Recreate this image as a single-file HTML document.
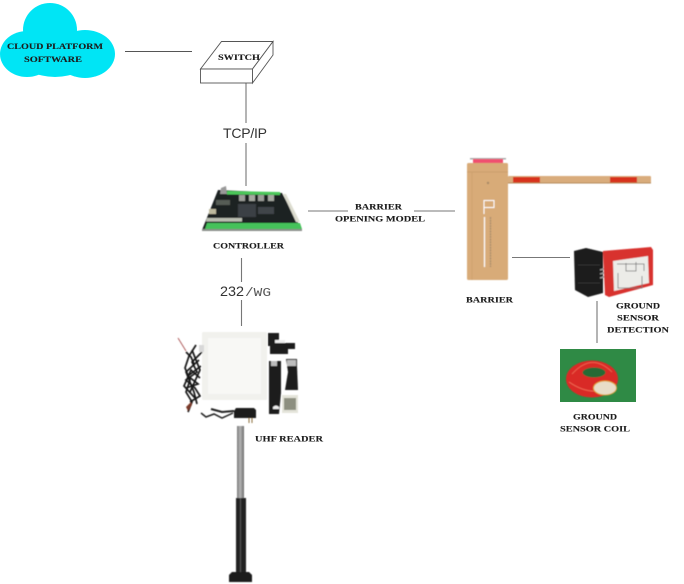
<!DOCTYPE html>
<html>
<head>
<meta charset="utf-8">
<style>
html,body{margin:0;padding:0;background:#fff}
svg{display:block}
.l{font-family:"Liberation Serif",serif;font-weight:bold;font-size:8.5px;fill:#1c1c1c;stroke:#1c1c1c;stroke-width:.12}
.s{font-family:"Liberation Sans",sans-serif;fill:#333}
</style>
</head>
<body>
<svg width="684" height="584" viewBox="0 0 684 584" xmlns="http://www.w3.org/2000/svg">
<defs>
<filter id="b" x="-5%" y="-5%" width="110%" height="110%"><feGaussianBlur stdDeviation="0.45"/></filter>
<filter id="b2" x="-5%" y="-5%" width="110%" height="110%"><feGaussianBlur stdDeviation="0.7"/></filter>
<filter id="t" x="-5%" y="-20%" width="110%" height="140%"><feGaussianBlur stdDeviation="0.25"/></filter>
<linearGradient id="pole" x1="0" x2="1" y1="0" y2="0"><stop offset="0" stop-color="#777"/><stop offset=".45" stop-color="#b5b5b5"/><stop offset="1" stop-color="#6d6d6d"/></linearGradient>
</defs>

<!-- cloud -->
<g fill="#00e5f5" stroke="none">
<ellipse cx="50" cy="30" rx="27" ry="27"/>
<ellipse cx="27" cy="54" rx="27" ry="23"/>
<ellipse cx="85" cy="54" rx="30" ry="24"/>
<ellipse cx="55" cy="58" rx="34" ry="19"/>
</g>

<!-- connectors -->
<g stroke="#777" stroke-width="1.1" fill="none">
<line x1="125" y1="51.500" x2="192" y2="51.500" stroke="#555"/>
<line x1="246" y1="83" x2="246" y2="123"/>
<line x1="246" y1="143" x2="246" y2="186"/>
<line x1="308" y1="211" x2="348" y2="211"/>
<line x1="414" y1="211" x2="455" y2="211"/>
<line x1="241.500" y1="258" x2="241.500" y2="282"/>
<line x1="241.500" y1="300" x2="241.500" y2="326"/>
<line x1="512" y1="257.500" x2="570" y2="257.500"/>
<line x1="597" y1="301" x2="597" y2="343"/>
</g>

<!-- switch -->
<g fill="#fff" stroke="#555" stroke-width="0.9">
<path d="M200.500 69 L221.500 41.500 L273 41.500 L252.500 69 Z"/>
<rect x="200.500" y="69" width="52" height="14"/>
<path d="M252.500 69 L273 41.500 L273 55 L252.500 83 Z"/>
</g>
<text class="s" x="245" y="138" font-size="14" text-anchor="middle" textLength="44">TCP/IP</text>

<!-- controller board -->
<g filter="url(#b)">
<path d="M218 190 L282 193 L302 230 L202 230 Z" fill="#1d2024"/>
<path d="M227 191 L280 192 L280 195 L227 194.500 Z" fill="#4cc85a"/>
<path d="M207 223 L300 223 L302 229 L205 229 Z" fill="#45c25a"/>
<path d="M207 218 L242 218 L242 221.500 L206 221.500 Z" fill="#b9bdb0"/>
<path d="M283 194 L286 194 L300 222 L296 222 Z" fill="#dcdccf"/>
<rect x="239" y="195" width="6" height="6" fill="#9b9e98"/>
<rect x="249" y="195" width="6" height="6" fill="#a5a8a0"/>
<rect x="258" y="195" width="6" height="6" fill="#9b9e98"/>
<rect x="268" y="195" width="6" height="6" fill="#a5a8a0"/>
<rect x="238" y="204" width="18" height="13" fill="#3b3f45"/>
<rect x="216" y="200" width="14" height="5" fill="#555b55"/>
<rect x="258" y="207" width="16" height="7" fill="#3f444a"/>
<rect x="209" y="209" width="7" height="5" fill="#bdb99e"/>
<path d="M221 188 L226 186 L227 194 L220 194 Z" fill="#999"/>
<rect x="202" y="229" width="100" height="2" fill="#8a8f8a"/>
</g>
<text class="s" x="220" y="296" font-size="14" textLength="24" lengthAdjust="spacingAndGlyphs">232</text>
<text x="245" y="296" font-family="'Liberation Mono',monospace" font-size="12" fill="#555" textLength="26" lengthAdjust="spacingAndGlyphs">/WG</text>

<!-- reader kit -->
<g filter="url(#b)">
<rect x="202" y="332" width="65" height="68" rx="1.500" fill="#f1f1ed"/>
<rect x="208" y="338" width="53" height="56" fill="#f8f8f5"/>
<g fill="none" stroke="#151515" stroke-width="1.700">
<path d="M186 352 L191 357 L194 364"/>
<path d="M196 345 L189 356 L185 368 L190 380 L186 392 L192 402 L188 412"/>
<path d="M202 352 L192 362 L197 372 L186 380 L195 388 L200 396 L190 402"/>
<path d="M199 360 L186 372 L194 392 L197 404"/>
<path d="M200 378 L191 370 L184 386 L195 398"/>
<path d="M201 366 L188 376 L198 384 L186 388"/>
<path d="M192 350 L200 370 L190 392"/>
</g>
<path d="M186 407 L191 402 L192 405 L188 411 Z" fill="#7a3b2a"/>
<path d="M178 338 L186 351" stroke="#a55" stroke-width=".9" fill="none"/>
<rect x="199" y="345" width="5" height="7" fill="#d8d8d8"/>
<path d="M201 413 L206 417 L214 414 L222 418 L233 413" fill="none" stroke="#222" stroke-width="1.500"/>
<path d="M211 409 L222 412 L234 411" fill="none" stroke="#222" stroke-width="2"/>
<path d="M236 408 H254 L256 410 V418 H234 V411 Z" fill="#1f1f1f"/>
<path d="M249 418 L249 423 M252 418 L252 423" stroke="#8a6d3a" stroke-width="1"/>
<path d="M268 333 H279 V343 H295 V349 H288 V354 H270 V346 H268 Z" fill="#1c1c1c"/>
<rect x="275" y="340" width="10" height="3" fill="#eee"/>
<path d="M269 361 H281 V393 L279 414 H269 Z" fill="#1b1b1b"/>
<rect x="271" y="361" width="6" height="5" fill="#bbb"/>
<path d="M273 407 q3 -3 6 0 v2 h-6 z" fill="#eee"/>
<path d="M286 359 H297 V366 L298 390 H285 L288 372 Z" fill="#1b1b1b"/>
<rect x="287" y="360" width="9" height="6" fill="#bdbdbd"/>
<rect x="282" y="395" width="16" height="18" fill="#e4e4da"/>
<rect x="284" y="398" width="12" height="12" fill="#8d8f80"/>
</g>

<!-- pole -->
<g filter="url(#b)">
<rect x="237" y="426" width="7" height="72" fill="url(#pole)"/>
<rect x="236" y="498" width="10" height="75" fill="#222"/>
<rect x="240" y="498" width="1" height="74" fill="#555"/>
<path d="M232 572 H249 L252 575 V582 H229 V575 Z" fill="#1a1a1a"/>
</g>

<!-- barrier -->
<g filter="url(#b)">
<rect x="470" y="158" width="36" height="1.500" fill="#aaa"/>
<rect x="473" y="159" width="30" height="4" fill="#f0506f"/>
<rect x="467" y="163" width="41" height="117" rx="1.500" fill="#d8ab78"/>
<line x1="467" y1="172" x2="508" y2="172" stroke="#c69a68" stroke-width=".8"/>
<line x1="472" y1="172" x2="472" y2="280" stroke="#cca070" stroke-width=".8"/>
<circle cx="488" cy="183" r="1.200" fill="#a88a66"/>
<rect x="508" y="176" width="143" height="7.500" rx="1" fill="#d9ac7c"/>
<rect x="513" y="177" width="27" height="5.500" fill="#d8301e"/>
<rect x="610" y="177" width="27" height="5.500" fill="#d8301e"/>
<rect x="508" y="182.500" width="143" height="1" fill="#b48a5a"/>
<path d="M484 214 V200.500 H494 V207.500 H484" fill="none" stroke="#fff" stroke-width="1"/>
<line x1="484.500" y1="217" x2="484.500" y2="267" stroke="#fff" stroke-width="1.200"/>
<line x1="490.500" y1="217" x2="490.500" y2="267" stroke="#a58a6a" stroke-width="1.200" stroke-dasharray="2 .7"/>
</g>

<!-- detector -->
<g filter="url(#b)">
<path d="M574 251 L586 248 L603 252 L603 293 L588 297 L575 290 Z" fill="#1c1c1c"/>
<path d="M578 265 H600 M578 283 H600" stroke="#333" stroke-width="1"/>
<path d="M600 270 L607 268 M600 274 L607 272 M600 278 L607 276" stroke="#999" stroke-width="1.500"/>
<path d="M603 251 L651 247 L653 250 L653 285 L609 297 L605 295 Z" fill="#d8302e"/>
<path d="M613 261 L648 256 L649 283 L614 291 Z" fill="#ecece8"/>
<path d="M617 264 H644 V271 M618 273 V288 H642 V276 M626 263 V271 H636 V262" fill="none" stroke="#777" stroke-width=".8"/>
</g>

<!-- coil -->
<rect x="560" y="349" width="76" height="53" fill="#2f8a45"/>
<g filter="url(#b)">
<ellipse cx="592" cy="379" rx="26" ry="18.500" fill="#d92a25"/>
<ellipse cx="594" cy="372.500" rx="11.500" ry="5" fill="#266b34"/>
<path d="M572 374 Q592 352 612 372 M569 382 Q592 398 613 386" fill="none" stroke="#f06a55" stroke-width=".8"/>
<ellipse cx="605" cy="388" rx="11.500" ry="7" fill="#e8ddc8" stroke="#e0a030" stroke-width="1"/>
</g>

<!-- labels -->
<g filter="url(#t)">
<text class="l" x="7" y="49" textLength="96" lengthAdjust="spacingAndGlyphs">CLOUD PLATFORM</text>
<text class="l" x="24" y="62" textLength="58" lengthAdjust="spacingAndGlyphs">SOFTWARE</text>
<text class="l" x="218" y="60" textLength="42" lengthAdjust="spacingAndGlyphs">SWITCH</text>
<text class="l" x="213" y="248.500" textLength="71" lengthAdjust="spacingAndGlyphs">CONTROLLER</text>
<text class="l" x="355" y="209.500" textLength="47" lengthAdjust="spacingAndGlyphs">BARRIER</text>
<text class="l" x="335" y="221.500" textLength="90" lengthAdjust="spacingAndGlyphs">OPENING MODEL</text>
<text class="l" x="255" y="441.500" textLength="68" lengthAdjust="spacingAndGlyphs">UHF READER</text>
<text class="l" x="466" y="302.500" textLength="47" lengthAdjust="spacingAndGlyphs">BARRIER</text>
<text class="l" x="616" y="308.500" textLength="44" lengthAdjust="spacingAndGlyphs">GROUND</text>
<text class="l" x="617" y="320.500" textLength="42" lengthAdjust="spacingAndGlyphs">SENSOR</text>
<text class="l" x="607" y="332.500" textLength="62" lengthAdjust="spacingAndGlyphs">DETECTION</text>
<text class="l" x="573" y="419.500" textLength="44" lengthAdjust="spacingAndGlyphs">GROUND</text>
<text class="l" x="560" y="431.500" textLength="70" lengthAdjust="spacingAndGlyphs">SENSOR COIL</text>
</g>
</svg>
</body>
</html>
